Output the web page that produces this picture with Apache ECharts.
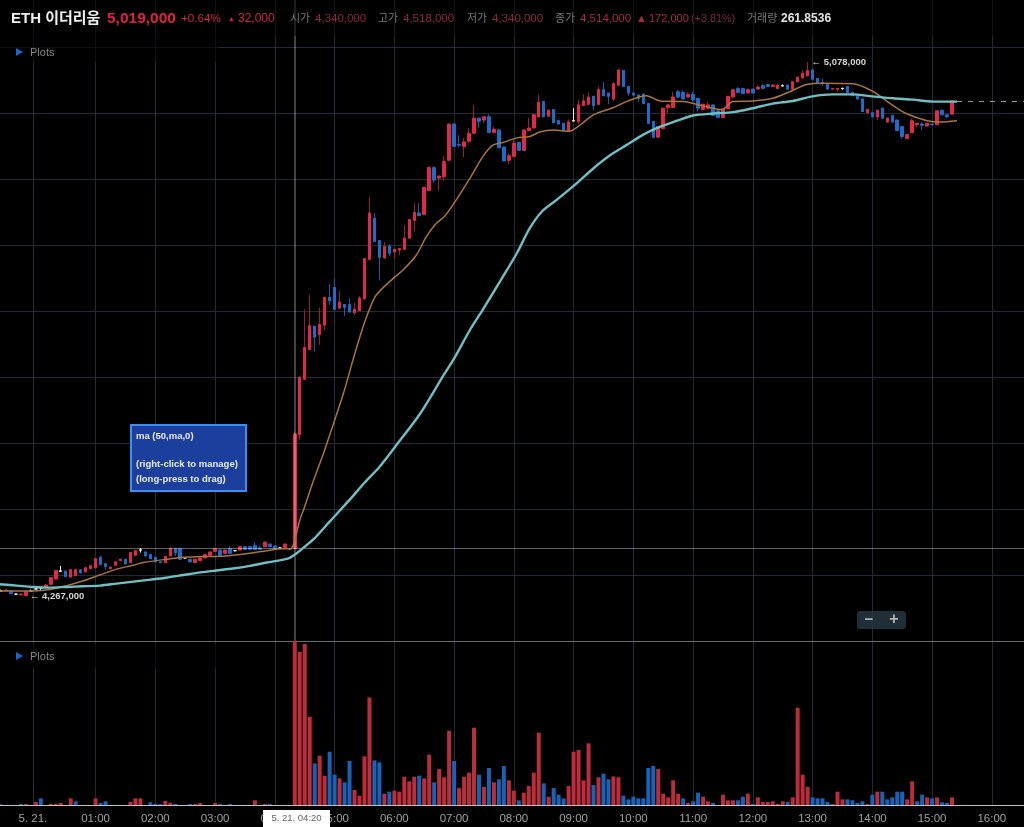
<!DOCTYPE html>
<html>
<head>
<meta charset="utf-8">
<title>ETH</title>
<style>
  html, body { margin: 0; padding: 0; background: #000; }
  #chart { width: 1024px; height: 827px; }
</style>
<script src="https://cdn.jsdelivr.net/npm/echarts@6/dist/echarts.min.js"></script>
</head>
<body>
<div id="chart"></div>
<script>
// Times are minutes after 5.21. 00:00, prices are thousands of won.
var candleTimes = [
  -35, -30, -25, -20, -15, -10, -5, 0, 5, 10, 15, 20,
  25, 30, 35, 40, 45, 50, 55, 60, 65, 70, 75, 80,
  85, 90, 95, 100, 105, 110, 115, 120, 125, 130, 135, 140,
  145, 150, 155, 160, 165, 170, 175, 180, 185, 190, 195, 200,
  205, 210, 215, 220, 225, 230, 235, 240, 245, 250, 255, 260,
  265, 270, 275, 280, 285, 290, 295, 300, 305, 310, 315, 320,
  325, 330, 335, 340, 345, 350, 355, 360, 365, 370, 375, 380,
  385, 390, 395, 400, 405, 410, 415, 420, 425, 430, 435, 440,
  445, 450, 455, 460, 465, 470, 475, 480, 485, 490, 495, 500,
  505, 510, 515, 520, 525, 530, 535, 540, 545, 550, 555, 560,
  565, 570, 575, 580, 585, 590, 595, 600, 605, 610, 615, 620,
  625, 630, 635, 640, 645, 650, 655, 660, 665, 670, 675, 680,
  685, 690, 695, 700, 705, 710, 715, 720, 725, 730, 735, 740,
  745, 750, 755, 760, 765, 770, 775, 780, 785, 790, 795, 800,
  805, 810, 815, 820, 825, 830, 835, 840, 845, 850, 855, 860,
  865, 870, 875, 880, 885, 890, 895, 900, 905, 910, 915, 920
];
var candleOpen = [
  4276, 4276, 4276, 4271, 4270, 4269, 4276, 4279, 4280, 4281, 4286, 4294,
  4306, 4306, 4297, 4299, 4308, 4305, 4310, 4311, 4327, 4317, 4310, 4315,
  4322, 4324, 4319, 4330, 4338, 4335, 4331, 4327, 4320, 4319, 4329, 4340,
  4340, 4326, 4324, 4319, 4322, 4326, 4330, 4336, 4338, 4333, 4340, 4337,
  4338, 4343, 4343, 4345, 4341, 4343, 4347, 4344, 4341, 4342, 4340, 4340,
  4513, 4597, 4642, 4677, 4665, 4679, 4721, 4736, 4705, 4710, 4710, 4698,
  4701, 4719, 4779, 4841, 4807, 4781, 4799, 4790, 4793, 4794, 4811, 4838,
  4849, 4847, 4883, 4918, 4902, 4904, 4929, 4984, 4953, 4950, 4958, 4970,
  4993, 4990, 4995, 4971, 4975, 4949, 4929, 4935, 4956, 4944, 4974, 4978,
  4995, 5018, 4996, 5006, 4989, 4985, 4974, 4989, 4988, 5012, 5014, 5026,
  5014, 5036, 5031, 5022, 5043, 5065, 5041, 5031, 5028, 5029, 5015, 4988,
  4964, 4977, 5009, 5009, 5033, 5032, 5025, 5029, 5023, 5006, 5008, 5013,
  5004, 4994, 5007, 5025, 5038, 5038, 5031, 5037, 5037, 5042, 5044, 5041,
  5038, 5042, 5043, 5037, 5048, 5054, 5057, 5066, 5053, 5047, 5044, 5037,
  5037, 5038, 5041, 5032, 5027, 5022, 5001, 5001, 4995, 5008, 4987, 4997,
  4990, 4980, 4962, 4971, 4983, 4984, 4981, 4984, 4983, 5005, 4998, 4999
];
var candleClose = [
  4276, 4277, 4272, 4271, 4271, 4275, 4276, 4279, 4280, 4285, 4296, 4307,
  4306, 4298, 4308, 4308, 4304, 4311, 4314, 4325, 4316, 4313, 4312, 4320,
  4324, 4317, 4334, 4337, 4338, 4329, 4325, 4320, 4319, 4328, 4340, 4334,
  4324, 4326, 4320, 4324, 4326, 4331, 4335, 4340, 4330, 4338, 4333, 4337,
  4343, 4339, 4339, 4339, 4339, 4350, 4343, 4340, 4341, 4347, 4340, 4514,
  4600, 4645, 4678, 4661, 4680, 4721, 4716, 4703, 4714, 4706, 4699, 4703,
  4720, 4780, 4849, 4806, 4782, 4798, 4788, 4794, 4795, 4811, 4839, 4850,
  4845, 4888, 4918, 4899, 4905, 4927, 4984, 4950, 4952, 4957, 4970, 4993,
  4988, 4995, 4971, 4976, 4948, 4928, 4936, 4955, 4944, 4975, 4978, 4998,
  5017, 4995, 5005, 4986, 4984, 4974, 4987, 4989, 5013, 5019, 5025, 5012,
  5036, 5027, 5026, 5045, 5066, 5041, 5031, 5028, 5023, 5015, 4985, 4964,
  4980, 5008, 5013, 5025, 5025, 5022, 5029, 5021, 5008, 5014, 5013, 4997,
  4994, 5007, 5026, 5036, 5032, 5030, 5036, 5031, 5040, 5038, 5041, 5043,
  5043, 5042, 5037, 5048, 5055, 5061, 5065, 5052, 5046, 5046, 5037, 5038,
  5038, 5038, 5032, 5027, 5022, 5003, 5006, 4995, 5005, 4993, 4993, 4987,
  4974, 4965, 4968, 4989, 4985, 4982, 4985, 4983, 5004, 4998, 4995, 5019
];
var candleLow = [
  4275, 4275, 4271, 4271, 4269, 4267, 4276, 4278, 4276, 4281, 4286, 4294,
  4306, 4298, 4297, 4299, 4302, 4305, 4310, 4311, 4316, 4308, 4310, 4315,
  4322, 4317, 4319, 4330, 4334, 4329, 4325, 4320, 4319, 4319, 4329, 4329,
  4324, 4325, 4320, 4319, 4322, 4326, 4330, 4336, 4330, 4333, 4333, 4336,
  4338, 4339, 4339, 4339, 4339, 4343, 4343, 4339, 4340, 4342, 4339, 4340,
  4505, 4597, 4642, 4639, 4649, 4671, 4710, 4703, 4703, 4693, 4699, 4694,
  4701, 4719, 4779, 4805, 4747, 4780, 4784, 4780, 4785, 4794, 4811, 4821,
  4845, 4847, 4883, 4895, 4883, 4898, 4929, 4950, 4949, 4934, 4955, 4970,
  4978, 4985, 4971, 4971, 4948, 4928, 4923, 4935, 4944, 4944, 4974, 4978,
  4995, 4995, 4996, 4986, 4984, 4974, 4974, 4988, 4984, 5012, 5013, 5005,
  5014, 5027, 5014, 5019, 5043, 5041, 5027, 5028, 5018, 5015, 4985, 4964,
  4964, 4977, 5000, 5009, 5023, 5022, 5025, 5018, 5003, 5006, 5008, 4997,
  4994, 4994, 5007, 5025, 5032, 5030, 5031, 5031, 5037, 5038, 5041, 5041,
  5038, 5042, 5037, 5037, 5048, 5054, 5057, 5052, 5046, 5042, 5037, 5037,
  5033, 5036, 5032, 5027, 5022, 5003, 5001, 4995, 4990, 4993, 4987, 4987,
  4974, 4962, 4962, 4971, 4979, 4975, 4981, 4983, 4983, 4998, 4993, 4999
];
var candleHigh = [
  4278, 4278, 4277, 4272, 4272, 4276, 4278, 4281, 4281, 4285, 4296, 4307,
  4314, 4306, 4308, 4308, 4309, 4311, 4314, 4325, 4329, 4318, 4312, 4320,
  4324, 4324, 4334, 4337, 4341, 4335, 4331, 4327, 4320, 4328, 4343, 4340,
  4340, 4327, 4324, 4324, 4326, 4331, 4335, 4340, 4338, 4338, 4344, 4338,
  4343, 4343, 4343, 4350, 4344, 4350, 4347, 4345, 4342, 4347, 4341, 4518,
  4601, 4703, 4725, 4678, 4706, 4722, 4741, 4750, 4731, 4710, 4720, 4712,
  4723, 4780, 4874, 4849, 4807, 4805, 4802, 4795, 4795, 4831, 4839, 4864,
  4864, 4888, 4920, 4920, 4906, 4936, 4984, 4984, 4967, 4963, 4978, 5013,
  4994, 4995, 4999, 4980, 4975, 4949, 4940, 4960, 4956, 4975, 4993, 5000,
  5029, 5018, 5005, 5006, 4991, 4985, 4991, 5008, 5021, 5029, 5032, 5026,
  5041, 5048, 5031, 5048, 5067, 5065, 5041, 5031, 5028, 5031, 5015, 4988,
  4980, 5008, 5013, 5033, 5036, 5035, 5032, 5033, 5023, 5014, 5017, 5013,
  5004, 5007, 5026, 5036, 5040, 5038, 5038, 5037, 5043, 5045, 5044, 5045,
  5043, 5044, 5043, 5048, 5055, 5066, 5078, 5066, 5053, 5053, 5044, 5038,
  5038, 5039, 5041, 5032, 5027, 5022, 5006, 5001, 5005, 5008, 4993, 4997,
  4990, 4980, 4968, 4992, 4985, 4986, 4985, 4984, 5004, 5005, 4998, 5019
];

var shortMaTimes = [
  -36, -3, 14, 31, 47, 64, 81, 98, 108, 131, 148, 165, 191, 215, 232, 248, 255,
  257, 260, 265, 270, 279, 289, 299, 309, 319, 327, 335, 342, 359, 369, 382,
  392, 402, 411, 423, 436, 449, 459, 469, 483, 496, 506, 520, 536, 546, 560,
  580, 593, 613, 627, 650, 674, 689, 700, 720, 740, 757, 774, 791, 821, 841,
  858, 874, 895, 908, 925
];
var shortMaValues = [
  4276, 4276, 4278, 4284, 4291, 4300, 4309, 4315, 4319, 4324, 4327, 4328, 4329,
  4333, 4337, 4340, 4340, 4341, 4353, 4383, 4404, 4444, 4485, 4530, 4576, 4629,
  4669, 4703, 4725, 4750, 4763, 4785, 4813, 4833, 4845, 4871, 4902, 4935, 4952,
  4956, 4963, 4965, 4972, 4975, 4973, 4982, 4998, 5009, 5018, 5027, 5019, 5018,
  5010, 5006, 5018, 5019, 5023, 5033, 5044, 5046, 5045, 5033, 5015, 5000, 4989,
  4987, 4989
];
var longMaTimes = [
  -36, -19, -3, 14, 31, 47, 64, 81, 98, 115, 131, 148, 165, 181, 198, 215, 232,
  253, 260, 270, 280, 295, 315, 330, 345, 361, 386, 409, 421, 436, 449, 466,
  483, 496, 508, 523, 543, 560, 577, 593, 610, 627, 644, 660, 680, 700, 720,
  740, 760, 780, 800, 820, 840, 861, 881, 901, 925
];
var longMaValues = [
  4286, 4284, 4282, 4281, 4282, 4283, 4284, 4287, 4290, 4293, 4296, 4300, 4304,
  4307, 4310, 4314, 4319, 4325, 4331, 4343, 4356, 4381, 4414, 4440, 4464, 4495,
  4545, 4602, 4631, 4672, 4703, 4745, 4788, 4826, 4851, 4869, 4894, 4917, 4937,
  4952, 4968, 4980, 4989, 4997, 5000, 5002, 5008, 5015, 5019, 5026, 5029, 5029,
  5026, 5023, 5021, 5018, 5018
];

var risingVolumeTimes = [
  -10, 0, 15, 20, 25, 35, 60, 95, 100, 105, 130, 135, 160, 165, 180, 220, 230,
  260, 265, 270, 275, 285, 290, 305, 320, 325, 330, 335, 350, 360, 365, 370,
  375, 380, 390, 395, 405, 410, 415, 425, 430, 435, 440, 450, 460, 475, 480,
  490, 495, 500, 505, 515, 535, 540, 545, 550, 555, 565, 580, 585, 625, 630,
  635, 640, 645, 655, 670, 675, 690, 695, 700, 715, 725, 730, 735, 740, 745,
  750, 760, 765, 770, 775, 800, 805, 810, 835, 845, 875, 880, 895, 905, 920
];
var risingVolumeValues = [
  1.6, 4.8, 1.6, 1.6, 3.2, 10.6, 10.6, 4.8, 10.6, 10.6, 6.4, 3.2, 1.6, 3.2, 3.2, 7.5, 1.6,
  261.85, 244.9, 257.1, 141, 78.8, 46.8, 42.6, 24, 14.9, 77.7, 171.9, 18.1, 22.9, 21.3, 45.2,
  37.8, 45.2, 42.6, 80.4, 57.5, 44.2, 118.7, 27.1, 45.2, 51.6, 123.5, 28.7, 36.2, 39.4, 22.9,
  19.7, 30.3, 51.6, 115.5, 13.3, 30.3, 85.2, 87.8, 39.4, 98.5, 44.2, 45.7, 44.2, 57.5, 18.1,
  12.2, 39.4, 18.1, 3.2, 13.3, 5.9, 16.5, 7.5, 7.5, 18.1, 12.2, 4.8, 4.8, 5.9, 1.6,
  5.9, 12.2, 155.4, 48.4, 28.7, 1.6, 21.3, 9, 1.6, 21.3, 9, 37.8, 12.2, 12.2, 12.2
];
var fallingVolumeTimes = [
  -35, -15, 5, 40, 65, 70, 115, 120, 125, 140, 155, 185, 195, 235, 280, 295, 300,
  310, 315, 340, 345, 355, 385, 400, 420, 445, 455, 465, 470, 485, 510, 520, 525,
  530, 560, 570, 575, 590, 595, 600, 605, 610, 615, 620, 650, 660, 665, 680, 705,
  710, 720, 755, 780, 785, 790, 795, 815, 820, 825, 830, 840, 850, 855, 860, 865,
  870, 885, 890, 900, 910, 915
];
var fallingVolumeValues = [
  1.1, 1.6, 10.6, 5.9, 3.2, 5.9, 4.3, 1.6, 1.6, 1.6, 1.6, 1.6, 1.6, 1.6, 66.5, 85.2, 48.4,
  36.2, 70.3, 71.3, 68.1, 21.3, 46.8, 36.2, 70.3, 48.4, 59.1, 41, 62.3, 7.5, 34.6, 27.1, 16.5,
  10.6, 31.9, 50, 41, 14.9, 9, 13.3, 10.6, 10.6, 59.1, 62.3, 10.6, 5.9, 19.7, 3.2, 7.5,
  13.3, 1.6, 4.8, 12.2, 10.6, 10.6, 4.8, 9, 7.5, 3.2, 5.9, 16.5, 21.3, 9, 12.2, 21.3,
  21.3, 5.9, 16.5, 10.6, 4.3, 3.2
];

var xTickValues = [-3, 60, 120, 180, 240, 300, 360, 420, 480, 540, 600, 660, 720, 780, 840, 900, 960];
var xTickLabels = ['5. 21.', '01:00', '02:00', '03:00', '04:00', '05:00', '06:00', '07:00', '08:00',
  '09:00', '10:00', '11:00', '12:00', '13:00', '14:00', '15:00', '16:00'];

var crosshairTime = 260;
var crosshairPrice = 4340;
var lastPrice = 5019;
var lastPriceTime = 925;
var chartEndTime = 992.3;
var highMark = {time: 775, price: 5078, label: '← 5,078,000'};
var lowMark = {time: -10, price: 4267, label: '← 4,267,000'};

var RED = '#e0294a';
var RED_WICK = '#96202f';
var BLUE = '#1e6cc6';
var BLUE_WICK = '#1a5ba6';
var VOL_RED = '#b92e3a';
var VOL_BLUE = '#1a62b6';
var GRID = '#1f2c38';
var FONT = '"Liberation Sans", Arial, "Noto Sans CJK KR", sans-serif';

function zip(times, values) {
  return times.map(function (t, i) { return [t, values[i]]; });
}

function headerText(x, text, color, size, weight) {
  return {
    type: 'text', x: x, y: 19, z: 20,
    style: {
      text: text, fill: color, verticalAlign: 'middle',
      font: (weight || 'normal') + ' ' + (size || 12) + 'px ' + FONT
    }
  };
}

function boxText(y, text) {
  return {
    type: 'text', x: 136, y: y, z: 31,
    style: {text: text, fill: '#e8ecf8', verticalAlign: 'middle', font: 'bold 9.5px ' + FONT}
  };
}

function plotsLegend(y) {
  return [
    {type: 'polygon', z: 20, shape: {points: [[16, y - 4], [23, y], [16, y + 4]]}, style: {fill: '#1c63d0'}},
    {type: 'text', x: 30, y: y + 1, z: 20,
      style: {text: 'Plots', fill: '#858585', verticalAlign: 'middle', font: '11px ' + FONT}}
  ];
}

var candleWicks = candleTimes.map(function (t, i) {
  return [t, candleOpen[i], candleClose[i], candleLow[i], candleHigh[i]];
});
// Bodies go on a second series so the wicks can keep their darker colour.
var candleBodies = candleTimes.map(function (t, i) {
  return [t, candleOpen[i], candleClose[i],
    Math.min(candleOpen[i], candleClose[i]), Math.max(candleOpen[i], candleClose[i])];
});

var graphics = [
  {type: 'rect', z: 15, shape: {x: 0, y: 0, width: 1024, height: 36}, style: {fill: 'rgba(0,0,0,0.55)'}},
  {type: 'rect', z: 15, shape: {x: 0, y: 36, width: 218, height: 26}, style: {fill: 'rgba(0,0,0,0.6)'}},
  {type: 'rect', z: 15, shape: {x: 0, y: 644, width: 218, height: 24}, style: {fill: 'rgba(0,0,0,0.6)'}},
  headerText(11, 'ETH 이더리움', '#f0f0f0', 15, 'bold'),
  headerText(107, '5,019,000', '#e0223f', 15.5, 'bold'),
  headerText(181, '+0.64%', '#cf2540', 11.7),
  headerText(228, '▲', '#cf2540', 7),
  headerText(238, '32,000', '#cf2540', 12),
  headerText(290, '시가', '#777777', 11),
  headerText(315, '4,340,000', '#8f2a38', 11.5),
  headerText(378, '고가', '#777777', 11),
  headerText(403, '4,518,000', '#8f2a38', 11.5),
  headerText(467, '저가', '#777777', 11),
  headerText(492, '4,340,000', '#8f2a38', 11.5),
  headerText(555, '종가', '#777777', 11),
  headerText(580, '4,514,000', '#a62b3a', 11.5),
  headerText(636, '▲', '#a62b3a', 11),
  headerText(649, '172,000', '#a62b3a', 11),
  headerText(691, '(+3.81%)', '#7c2a36', 10.8),
  headerText(747, '거래량', '#777777', 11),
  headerText(781, '261.8536', '#e6e6e6', 12, 'bold'),

  {type: 'rect', z: 30, shape: {x: 131, y: 425, width: 115, height: 66},
    style: {fill: '#1c3e9c', stroke: '#3f8fee', lineWidth: 2}},
  boxText(436, 'ma (50,ma,0)'),
  boxText(464, '(right-click to manage)'),
  boxText(479, '(long-press to drag)'),

  {type: 'rect', z: 30, shape: {x: 857, y: 611, width: 49, height: 18, r: 3},
    style: {fill: 'rgba(38,54,66,0.85)'}},
  {type: 'text', x: 869, y: 620, z: 31,
    style: {text: '−', fill: '#b4b4b4', align: 'center', verticalAlign: 'middle', font: 'bold 15px ' + FONT}},
  {type: 'text', x: 894, y: 620, z: 31,
    style: {text: '+', fill: '#b4b4b4', align: 'center', verticalAlign: 'middle', font: 'bold 16px ' + FONT}},

  {type: 'rect', z: 30, shape: {x: 263, y: 810, width: 67, height: 17}, style: {fill: '#ffffff'}},
  {type: 'text', x: 296.5, y: 818, z: 31,
    style: {text: '5. 21. 04:20', fill: '#666666', align: 'center', verticalAlign: 'middle', font: '9.5px ' + FONT}}
].concat(plotsLegend(52), plotsLegend(656));

var chart = echarts.init(document.getElementById('chart'), null, {renderer: 'canvas'});

chart.setOption({
  animation: false,
  backgroundColor: '#000',
  textStyle: {fontFamily: FONT},
  grid: [
    {left: 0, right: 0, top: -18.4, height: 659.4, outerBoundsMode: 'none'},
    {left: 0, right: 0, top: 641, height: 164, outerBoundsMode: 'none'}
  ],
  xAxis: [
    {
      type: 'value', gridIndex: 0, min: -36, max: chartEndTime,
      axisLine: {show: true, onZero: false, lineStyle: {color: '#6a6a6a'}},
      axisTick: {show: false, customValues: xTickValues},
      axisLabel: {show: false},
      splitLine: {show: true, lineStyle: {color: GRID}}
    },
    {
      type: 'value', gridIndex: 1, min: -36, max: chartEndTime,
      axisLine: {show: true, onZero: false, lineStyle: {color: '#c4c4c4'}},
      axisTick: {show: false, customValues: xTickValues},
      axisLabel: {
        show: true, customValues: xTickValues, color: '#a0a0a0', fontSize: 11.5, margin: 8,
        hideOverlap: false, showMinLabel: true, showMaxLabel: true,
        formatter: function (v) { return xTickLabels[xTickValues.indexOf(v)]; }
      },
      splitLine: {show: true, lineStyle: {color: GRID}}
    }
  ],
  yAxis: [
    {
      type: 'value', gridIndex: 0, min: 4200, max: 5200, interval: 100,
      axisLine: {show: false}, axisTick: {show: false}, axisLabel: {show: false},
      splitLine: {show: true, lineStyle: {color: GRID}}
    },
    {
      type: 'value', gridIndex: 1, min: 0, max: 262,
      axisLine: {show: false}, axisTick: {show: false}, axisLabel: {show: false},
      splitLine: {show: false}
    }
  ],
  series: [
    {
      name: 'wicks', type: 'candlestick', xAxisIndex: 0, yAxisIndex: 0,
      encode: {x: 0, y: [1, 2, 3, 4]}, barWidth: 2, z: 3,
      data: candleWicks,
      itemStyle: {
        color: RED_WICK, color0: BLUE_WICK, borderColor: RED_WICK, borderColor0: BLUE_WICK,
        borderColorDoji: '#e8e8e8', borderWidth: 1
      },
      markPoint: {
        symbol: 'circle', symbolSize: 0, silent: true,
        label: {show: true, position: 'right', distance: 4, color: '#d6d6d6', fontSize: 9.5, fontWeight: 'bold'},
        data: [
          {coord: [highMark.time, highMark.price], label: {formatter: highMark.label}},
          {coord: [lowMark.time, lowMark.price], label: {formatter: lowMark.label}}
        ]
      }
    },
    {
      name: 'bodies', type: 'candlestick', xAxisIndex: 0, yAxisIndex: 0,
      encode: {x: 0, y: [1, 2, 3, 4]}, barWidth: 3, z: 4,
      data: candleBodies,
      itemStyle: {
        color: RED, color0: BLUE, borderColor: RED, borderColor0: BLUE,
        borderColorDoji: '#e8e8e8', borderWidth: 1
      }
    },
    {
      name: 'ma short', type: 'line', xAxisIndex: 0, yAxisIndex: 0, z: 5,
      showSymbol: false, smooth: 0.3, silent: true,
      lineStyle: {color: '#a8753a', width: 1.5},
      data: zip(shortMaTimes, shortMaValues)
    },
    {
      name: 'ma (50,ma,0)', type: 'line', xAxisIndex: 0, yAxisIndex: 0, z: 6,
      showSymbol: false, smooth: 0.3, silent: true,
      lineStyle: {color: '#70bfc3', width: 2.4},
      data: zip(longMaTimes, longMaValues),
      markLine: {
        silent: true, symbol: 'none', animation: false, label: {show: false},
        data: [
          {xAxis: crosshairTime, lineStyle: {color: 'rgba(255,255,255,0.33)', width: 1.6, type: 'solid'}},
          {yAxis: crosshairPrice, lineStyle: {color: 'rgba(255,255,255,0.38)', width: 1, type: 'solid'}},
          [
            {coord: [lastPriceTime, lastPrice], lineStyle: {color: '#9a9a9a', width: 1, type: [5, 6]}},
            {coord: [chartEndTime, lastPrice]}
          ]
        ]
      }
    },
    {
      name: 'volume up', type: 'bar', xAxisIndex: 1, yAxisIndex: 1, barWidth: 4, barGap: '-100%',
      itemStyle: {color: VOL_RED},
      data: zip(risingVolumeTimes, risingVolumeValues)
    },
    {
      name: 'volume down', type: 'bar', xAxisIndex: 1, yAxisIndex: 1, barWidth: 4, barGap: '-100%',
      itemStyle: {color: VOL_BLUE},
      data: zip(fallingVolumeTimes, fallingVolumeValues)
    }
  ],
  graphic: graphics
});
</script>
</body>
</html>
